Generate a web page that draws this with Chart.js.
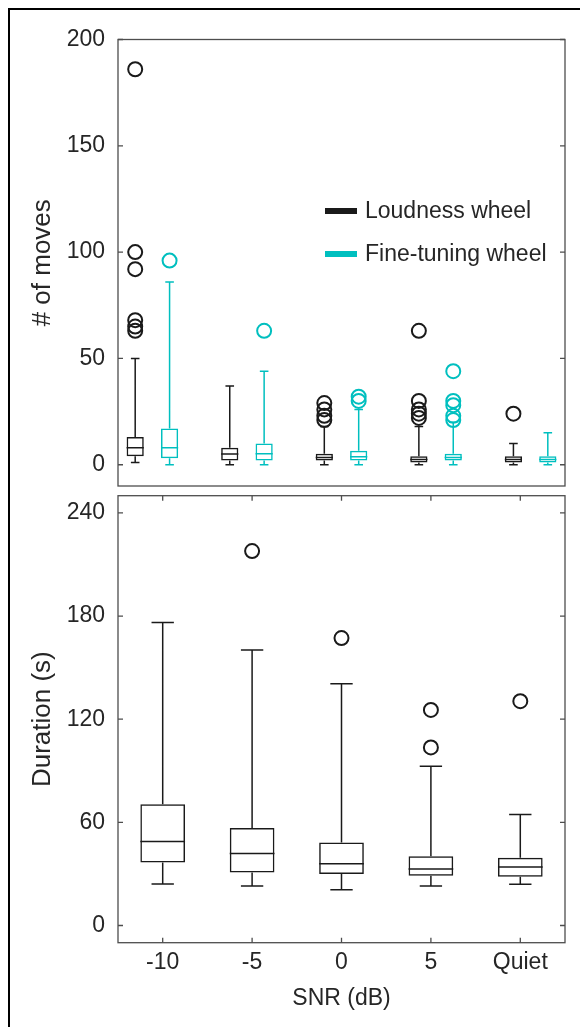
<!DOCTYPE html>
<html>
<head>
<meta charset="utf-8">
<script src="https://cdn.jsdelivr.net/npm/chart.js@4.4.1/dist/chart.umd.min.js"></script>
<style>
  html, body { margin: 0; padding: 0; background: #fff; }
  #wrap { position: relative; width: 580px; height: 1027px; overflow: hidden; }
  #frame { position: absolute; left: 8px; top: 8px; width: 700px; height: 1100px;
           border-left: 2px solid #000; border-top: 2px solid #000; }
  #c1 { position: absolute; left: 0; top: 0; }
  #c2 { position: absolute; left: 0; top: 490px; }
</style>
</head>
<body>
<div id="wrap">
  <div id="frame"></div>
  <canvas id="c1" width="580" height="490"></canvas>
  <canvas id="c2" width="580" height="537"></canvas>
</div>
<script>
// ---------- data ----------
const categories = ['-10', '-5', '0', '5', 'Quiet'];
const seriesNames = ['Loudness wheel', 'Fine-tuning wheel'];

// top panel: number of moves (box positions along a numeric group axis)
const loudPos = [1, 3.75, 6.5, 9.25, 12];
const finePos = [2, 4.75, 7.5, 10.25, 13];

const loudLow = [1, 0, 0, 0, 0];
const loudQ1 = [4, 2, 2, 1, 1];
const loudMed = [8, 5, 3.4, 2.5, 2.5];
const loudQ3 = [13, 8, 5.2, 4, 4];
const loudHigh = [50, 37, 18, 18, 10];
const loudOutliers = [[186, 100, 92, 68, 65, 63], [], [29, 26, 23, 21], [63, 30, 26, 24, 22], [24]];

const fineLow = [0, 0, 0, 0, 0];
const fineQ1 = [3, 2, 2, 2, 1];
const fineMed = [8, 5.2, 3.8, 3.4, 2.5];
const fineQ3 = [17, 10, 6.6, 5.2, 4];
const fineHigh = [86, 44, 26, 20, 15];
const fineOutliers = [[96], [63], [32, 30], [44, 30, 28, 23, 21], []];

const moveTicks = [0, 50, 100, 150, 200];

// bottom panel: duration (s)
const durLow = [24.1, 23, 20.8, 23, 24];
const durQ1 = [36.7, 30.9, 29.9, 28.9, 28.4];
const durMed = [48.8, 41.9, 35.9, 32.8, 34];
const durQ3 = [70.6, 56.7, 48.3, 40.3, 39.4];
const durHigh = [176.2, 160.3, 140.6, 92.6, 64.6];
const durOutliers = [[], [217.8], [167.2], [103.6, 125.4], [130.5]];

const durTicks = [0, 60, 120, 180, 240];

// ---------- style ----------
const FONT = "'Liberation Sans', Arial, Helvetica, sans-serif";
const TEXT = '#262626';
const AXIS = '#4d4d4d';
const BLACK = '#1a1a1a';
const CYAN = '#00bfbf';
Chart.defaults.font.family = FONT;
Chart.defaults.color = TEXT;

// ---------- plugins ----------
const boxPlugin = {
  id: 'boxWhiskers',
  afterDatasetsDraw(chart) {
    const ctx = chart.ctx;
    chart.data.datasets.forEach((ds, di) => {
      if (!ds.stats) return;
      const meta = chart.getDatasetMeta(di);
      const ys = chart.scales[meta.yAxisID];
      ctx.save();
      ctx.strokeStyle = ds.borderColor;
      ctx.lineWidth = ds.borderWidth;
      ctx.beginPath();
      meta.data.forEach((el, i) => {
        const p = el.getProps(['x', 'width'], true);
        const x = p.x, half = p.width / 2, cap = p.width / 4;
        const pMed = ys.getPixelForValue(ds.stats.med[i]);
        const pQ1 = ys.getPixelForValue(ds.stats.q1[i]);
        const pQ3 = ys.getPixelForValue(ds.stats.q3[i]);
        const pLo = ys.getPixelForValue(ds.stats.lo[i]);
        const pHi = ys.getPixelForValue(ds.stats.hi[i]);
        ctx.moveTo(x - half, pMed); ctx.lineTo(x + half, pMed);
        ctx.moveTo(x, pQ3); ctx.lineTo(x, pHi);
        ctx.moveTo(x - cap, pHi); ctx.lineTo(x + cap, pHi);
        if (pLo - pQ1 > 0.5) {
          ctx.moveTo(x, pQ1); ctx.lineTo(x, pLo);
        }
        ctx.moveTo(x - cap, pLo); ctx.lineTo(x + cap, pLo);
      });
      ctx.stroke();
      ctx.restore();
    });
  }
};

const framePlugin = {
  id: 'axesFrame',
  beforeDatasetsDraw(chart, args, opts) {
    const ctx = chart.ctx, a = chart.chartArea;
    ctx.save();
    ctx.strokeStyle = AXIS;
    ctx.lineWidth = 1.3;
    ctx.strokeRect(a.left, a.top, a.right - a.left, a.bottom - a.top);
    ctx.beginPath();
    const ys = chart.scales.y;
    ys.ticks.forEach(t => {
      const p = ys.getPixelForValue(t.value);
      ctx.moveTo(a.left, p); ctx.lineTo(a.left + 5, p);
      ctx.moveTo(a.right, p); ctx.lineTo(a.right - 5, p);
    });
    if (opts && opts.xTicks) {
      const xs = chart.scales.x;
      xs.ticks.forEach((t, i) => {
        const p = xs.getPixelForTick(i);
        ctx.moveTo(p, a.bottom); ctx.lineTo(p, a.bottom - 5);
        ctx.moveTo(p, a.top); ctx.lineTo(p, a.top + 5);
      });
    }
    ctx.stroke();
    ctx.restore();
  }
};

const legendPlugin = {
  id: 'boxLegend',
  afterDraw(chart, args, opts) {
    if (!opts || !opts.items) return;
    const ctx = chart.ctx;
    ctx.save();
    opts.items.forEach((it, i) => {
      const y = opts.y + i * opts.gap;
      ctx.strokeStyle = it.color;
      ctx.lineWidth = 6;
      ctx.beginPath();
      ctx.moveTo(opts.x, y); ctx.lineTo(opts.x + 32, y);
      ctx.stroke();
      ctx.fillStyle = TEXT;
      ctx.font = '23px ' + FONT;
      ctx.textBaseline = 'middle';
      ctx.textAlign = 'left';
      ctx.fillText(it.text, opts.x + 40, y + 1);
    });
    ctx.restore();
  }
};

function outlierPoints(posList, outs) {
  const pts = [];
  outs.forEach((arr, i) => arr.forEach(v => pts.push({ x: posList[i], y: v })));
  return pts;
}

function fixedTicks(list) {
  return s => { s.ticks = list.map(v => ({ value: v })); };
}

function fixWidth(w) {
  return s => { s.width = w; s.paddingTop = 0; s.paddingBottom = 0; };
}

// ---------- top chart ----------
new Chart(document.getElementById('c1'), {
  type: 'bar',
  data: {
    datasets: [
      {
        label: seriesNames[0],
        data: loudPos.map((x, i) => ({ x: x, y: [loudQ1[i], loudQ3[i]] })),
        stats: { lo: loudLow, q1: loudQ1, med: loudMed, q3: loudQ3, hi: loudHigh },
        backgroundColor: 'rgba(0,0,0,0)', borderColor: BLACK, borderWidth: 1.5,
        borderSkipped: false, grouped: false, barPercentage: 0.5, categoryPercentage: 1
      },
      {
        label: seriesNames[1],
        data: finePos.map((x, i) => ({ x: x, y: [fineQ1[i], fineQ3[i]] })),
        stats: { lo: fineLow, q1: fineQ1, med: fineMed, q3: fineQ3, hi: fineHigh },
        backgroundColor: 'rgba(0,0,0,0)', borderColor: CYAN, borderWidth: 1.5,
        borderSkipped: false, grouped: false, barPercentage: 0.5, categoryPercentage: 1
      },
      {
        type: 'scatter', label: seriesNames[0] + ' outliers',
        data: outlierPoints(loudPos, loudOutliers),
        pointStyle: 'circle', pointRadius: 7, pointBorderWidth: 2,
        borderColor: BLACK, backgroundColor: 'rgba(0,0,0,0)'
      },
      {
        type: 'scatter', label: seriesNames[1] + ' outliers',
        data: outlierPoints(finePos, fineOutliers),
        pointStyle: 'circle', pointRadius: 7, pointBorderWidth: 2,
        borderColor: CYAN, backgroundColor: 'rgba(0,0,0,0)'
      }
    ]
  },
  options: {
    responsive: false, animation: false, events: [],
    layout: { autoPadding: false, padding: { top: 39.5, right: 15, bottom: 4, left: 0 } },
    scales: {
      x: {
        type: 'linear', display: false, min: 0.5, max: 13.5,
        afterBuildTicks: s => { s.ticks = []; }
      },
      y: {
        min: -10, max: 200,
        afterBuildTicks: fixedTicks(moveTicks),
        afterFit: fixWidth(118),
        grid: { display: false, drawTicks: false },
        border: { display: false },
        ticks: { font: { size: 23 }, color: TEXT, padding: 13 },
        title: { display: true, text: '# of moves', font: { size: 26 }, color: TEXT, padding: { top: 27.4, bottom: 0 } }
      }
    },
    plugins: {
      legend: { display: false },
      tooltip: { enabled: false },
      axesFrame: { xTicks: false },
      boxLegend: {
        x: 325, y: 211, gap: 43,
        items: [{ text: seriesNames[0], color: BLACK }, { text: seriesNames[1], color: CYAN }]
      }
    }
  },
  plugins: [framePlugin, boxPlugin, legendPlugin]
});

// ---------- bottom chart ----------
new Chart(document.getElementById('c2'), {
  type: 'bar',
  data: {
    labels: categories,
    datasets: [
      {
        label: 'Duration',
        data: durQ1.map((q, i) => [q, durQ3[i]]),
        stats: { lo: durLow, q1: durQ1, med: durMed, q3: durQ3, hi: durHigh },
        backgroundColor: 'rgba(0,0,0,0)', borderColor: BLACK, borderWidth: 1.5,
        borderSkipped: false, barPercentage: 0.5, categoryPercentage: 1
      },
      {
        type: 'scatter', label: 'Duration outliers',
        data: outlierPoints(categories, durOutliers),
        pointStyle: 'circle', pointRadius: 7, pointBorderWidth: 2,
        borderColor: BLACK, backgroundColor: 'rgba(0,0,0,0)'
      }
    ]
  },
  options: {
    responsive: false, animation: false, events: [],
    layout: { autoPadding: false, padding: { top: 5.7, right: 15, bottom: 0, left: 0 } },
    scales: {
      x: {
        type: 'category', offset: true,
        afterFit: s => { s.height = 84.3; s.paddingLeft = 0; s.paddingRight = 0; },
        grid: { display: false, drawTicks: false },
        border: { display: false },
        ticks: { font: { size: 23 }, color: TEXT, padding: 6.5, maxRotation: 0 },
        title: { display: true, text: 'SNR (dB)', font: { size: 23 }, color: TEXT, padding: { top: 0, bottom: 15 } }
      },
      y: {
        min: -10, max: 250,
        afterBuildTicks: fixedTicks(durTicks),
        afterFit: fixWidth(118),
        grid: { display: false, drawTicks: false },
        border: { display: false },
        ticks: { font: { size: 23 }, color: TEXT, padding: 13 },
        title: { display: true, text: 'Duration (s)', font: { size: 26 }, color: TEXT, padding: { top: 27.4, bottom: 0 } }
      }
    },
    plugins: {
      legend: { display: false },
      tooltip: { enabled: false },
      axesFrame: { xTicks: true }
    }
  },
  plugins: [framePlugin, boxPlugin]
});
</script>
</body>
</html>
